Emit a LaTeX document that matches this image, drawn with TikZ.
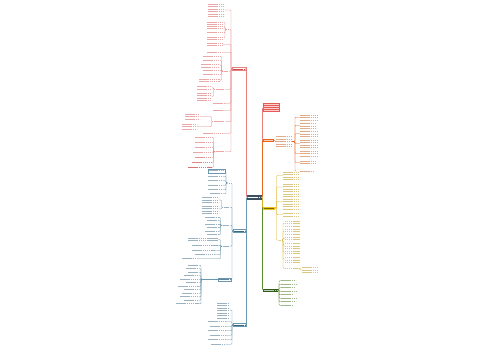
\documentclass[tikz,border=0pt]{standalone}
\usetikzlibrary{calc}
\definecolor{cRed}{HTML}{E88080}
\definecolor{tRed}{HTML}{D05050}
\definecolor{cBlue}{HTML}{6A97B0}
\definecolor{tBlue}{HTML}{3A6680}
\definecolor{cYel}{HTML}{DDB020}
\definecolor{tYel}{HTML}{B8920A}
\definecolor{fYel}{HTML}{F0C21C}
\definecolor{cGrn}{HTML}{5C8A2E}
\definecolor{tGrn}{HTML}{4F7A28}
\definecolor{fGrn}{HTML}{2F5A1A}
\definecolor{cOra}{HTML}{E8631C}
\definecolor{tOra}{HTML}{C9682A}
\definecolor{rootc}{HTML}{3B4F63}
\tikzset{
 txt/.style={inner sep=0pt, outer sep=0pt, fill=white, path picture={
   \foreach \i in {0,...,30}{
     \draw[#1, line width=0.6pt, dash pattern=on 1.6pt off 0.5pt]
       ([yshift={-1.25pt-\i*2.5pt}]path picture bounding box.north west) --
       ([yshift={-1.25pt-\i*2.5pt}]path picture bounding box.north east);}}},
 lbl/.style={inner sep=0pt, outer sep=0pt, path picture={
     \draw[#1, line width=0.7pt, dash pattern=on 1.6pt off 0.5pt]
       ([xshift=1pt]path picture bounding box.west) --
       ([xshift=-1pt]path picture bounding box.east);}},
 ln/.style={draw=#1, line width=0.4pt, rounded corners=0.8pt},
 mln/.style={draw=#1, line width=0.6pt, rounded corners=1pt},
 redbox/.style={inner sep=0pt, outer sep=0pt, draw=none, fill={rgb,255:red,226;green,92;blue,88}},
}
\newcommand\bx[6]{\node[#6, minimum width={(#4-#2)*1pt}, minimum height={(#5-#3)*1pt}] (#1) at ({(#2+#4)/2},{(#3+#5)/2}) {};}
\newcommand\lc[4]{\draw[ln=#4] (#1.west) -- ++(-#3,0) |- (#2.east);}
\newcommand\rc[4]{\draw[ln=#4] (#1.east) -- ++(#3,0) |- (#2.west);}
\begin{document}
\begin{tikzpicture}[x=1pt,y=-1pt]
\path[fill=white] (0,0) rectangle (500,360);
% ---------- root and main branches
\bx{rt}{247}{195}{262}{199.5}{lbl=white, fill=rootc}
\bx{R1}{232}{67.5}{246}{70.5}{lbl=tRed, fill=white, draw=cRed, line width=0.5pt}
\bx{BA}{233}{229.5}{246}{232.5}{lbl=tBlue, fill=white, draw=cBlue, line width=0.5pt}
\bx{BC}{233}{323.5}{246}{326.5}{lbl=tBlue, fill=white, draw=cBlue, line width=0.5pt}
\bx{RR}{263}{103}{280}{112}{redbox}
\foreach \k in {0,1,2,3}{\draw[white!80!red, line width=0.6pt] ([xshift=1.2pt, yshift={-1.7pt-\k*2pt}]RR.north west) -- ([xshift=-1.2pt, yshift={-1.7pt-\k*2pt}]RR.north east);}
\bx{OR}{263}{138.5}{274}{141.5}{lbl=cOra!30!white, fill=cOra}
\bx{YE}{263}{206.5}{275}{209.5}{lbl=tYel!70!black, fill=fYel}
\bx{GR}{263}{288.5}{278}{291.5}{lbl=fGrn!30!white, fill=fGrn}
\draw[mln=cRed] (rt.west) -- ++(-0.5,0) |- (R1.east);
\draw[mln=cBlue] (rt.west) -- ++(-0.5,0) |- (BC.east);
\draw[mln=cBlue] (rt.west) -- ++(-0.5,0) |- (BA.east);
\draw[mln=cRed] (rt.east) -- ++(0.5,0) |- (RR.west);
\draw[mln=cOra] (rt.east) -- ++(0.5,0) |- (OR.west);
\draw[mln=cGrn] (rt.east) -- ++(0.5,0) |- (GR.west);
\draw[mln=cYel] (rt.east) -- ++(0.5,0) |- (YE.west);
% ---------- red branch
\bx{r1}{208}{3}{225}{17}{txt=tRed!50}
\bx{r2}{226.5}{28.5}{229.5}{30.5}{lbl=tRed!50}
\bx{r2a}{207}{21}{224}{24}{txt=tRed!50}
\bx{r2b}{207}{25}{224}{28}{txt=tRed!50}
\bx{r2c}{207}{31.5}{224}{34.5}{txt=tRed!50}
\bx{r2d}{207}{36}{224}{39}{txt=tRed!50}
\bx{r3}{207}{42}{223}{47}{txt=tRed!50}
\bx{r4}{207}{51}{222}{53.5}{txt=tRed!50}
\bx{r5}{223}{70}{229}{72.5}{lbl=tRed!50}
\bx{r5a}{203}{55}{220}{57.5}{txt=tRed!50}
\bx{r5b}{203}{59.5}{220}{62}{txt=tRed!50}
\bx{r5c}{201}{63.5}{220}{67.5}{txt=tRed!50}
\bx{r5d}{203}{69}{220}{71.5}{txt=tRed!50}
\bx{r5e}{203}{73.5}{220}{76}{txt=tRed!50}
\bx{r5f}{199}{78}{220}{82.5}{txt=tRed!50}
\bx{r6}{215}{88}{225}{90.5}{lbl=tRed!50}
\bx{r6a}{197}{85.5}{212}{90}{txt=tRed!50}
\bx{r6b}{197}{92}{212}{101}{txt=tRed!50}
\bx{r7}{213}{102}{225}{104.5}{txt=tRed!50}
\bx{r8}{213}{109}{223}{111.5}{txt=tRed!50}
\bx{r9}{213}{120.5}{225}{123}{lbl=tRed!50}
\bx{r9a}{185}{113}{200}{120.5}{txt=tRed!50}
\bx{r9b}{182}{123}{197}{130.5}{txt=tRed!50}
\bx{r10}{203}{132}{223}{134.5}{txt=tRed!50}
\bx{r11}{215}{150.5}{225}{153}{lbl=tRed!50}
\bx{r11a}{195}{136}{212}{138.5}{txt=tRed!50}
\bx{r11b}{195}{141}{212}{143.5}{txt=tRed!50}
\bx{r11c}{195}{146}{212}{148.5}{txt=tRed!50}
\bx{r11d}{193}{151}{212}{153.5}{txt=tRed!50}
\bx{r11e}{195}{156}{212}{158.5}{txt=tRed!60}
\bx{r11f}{192}{161}{212}{163.5}{txt=tRed!70}
\bx{r11g}{188}{166}{212}{168.5}{txt=tRed!80}
\foreach \c in {r1,r2,r3,r4,r5,r6,r7,r8,r9,r10,r11}{\lc{R1}{\c}{1}{cRed}}
\foreach \c in {r2a,r2b,r2c,r2d}{\lc{r2}{\c}{1.5}{cRed}}
\foreach \c in {r5a,r5b,r5c,r5d,r5e,r5f}{\lc{r5}{\c}{1.5}{cRed}}
\foreach \c in {r6a,r6b}{\lc{r6}{\c}{1.5}{cRed}}
\foreach \c in {r9a,r9b}{\lc{r9}{\c}{1.5}{cRed}}
\foreach \c in {r11a,r11b,r11c,r11d,r11e,r11f,r11g}{\lc{r11}{\c}{1.5}{cRed}}
% ---------- blue branch A
\bx{ba1}{227.5}{182}{230.5}{184}{lbl=tBlue!50}
\bx{ba1a}{208}{169.5}{225}{173}{txt=tBlue!50, draw=cBlue, line width=0.4pt}
\bx{ba1b}{208}{175}{223}{177.5}{txt=tBlue!50}
\bx{ba1c}{208}{179.5}{223}{182}{txt=tBlue!50}
\bx{ba1d}{208}{184}{223}{186.5}{txt=tBlue!50}
\bx{ba1e}{208}{188.5}{223}{191}{txt=tBlue!50}
\bx{ba1f}{210}{192.5}{223}{195}{txt=tBlue!50}
\bx{ba2}{223}{206}{230}{208.5}{lbl=tBlue!50}
\bx{ba2a}{202}{196.5}{219}{203.5}{txt=tBlue!50}
\bx{ba2b}{202}{205}{219}{213}{txt=tBlue!50}
\bx{ba3}{222}{224}{230}{226.5}{lbl=tBlue!50}
\bx{ba3a}{205}{216}{219}{218.5}{txt=tBlue!50}
\bx{ba3b}{207}{219.5}{219}{222}{txt=tBlue!50}
\bx{ba3c}{205}{223}{219}{225.5}{txt=tBlue!50}
\bx{ba3d}{207}{226.5}{219}{229}{txt=tBlue!50}
\bx{ba3e}{205}{230}{219}{232.5}{txt=tBlue!50}
\bx{ba3f}{207}{233.5}{219}{236}{txt=tBlue!50}
\bx{ba4}{222}{245}{230}{247.5}{lbl=tBlue!50}
\bx{ba4a}{188}{237}{218}{242}{txt=tBlue!50}
\bx{ba4b}{192}{244}{218}{246.5}{txt=tBlue!50}
\bx{ba4c}{192}{249.5}{215}{252}{txt=tBlue!50}
\bx{ba4d}{195}{253.5}{215}{256}{txt=tBlue!50}
\bx{ba4e}{182}{257.5}{197}{260}{txt=tBlue!50}
\bx{BB}{218}{278}{231}{281}{lbl=tBlue!80, fill=white, draw=cBlue, line width=0.5pt}
\bx{bb1}{188}{264}{199}{266.5}{txt=tBlue!50}
\bx{bb2}{186}{267.5}{199}{270}{txt=tBlue!50}
\bx{bb3}{188}{271}{199}{273.5}{txt=tBlue!50}
\bx{bb4}{184}{274.5}{199}{277}{txt=tBlue!50}
\bx{bb5}{180}{278}{199}{280.5}{txt=tBlue!50}
\bx{bb6}{186}{281.5}{199}{284}{txt=tBlue!50}
\bx{bb7}{178}{285}{199}{287.5}{txt=tBlue!50}
\bx{bb8}{184}{288.5}{199}{291}{txt=tBlue!50}
\bx{bb9}{182}{292}{199}{294.5}{txt=tBlue!50}
\bx{bb10}{180}{295.5}{199}{298}{txt=tBlue!50}
\bx{bb11}{184}{299}{199}{301.5}{txt=tBlue!50}
\bx{bb12}{176}{302.5}{199}{305}{txt=tBlue!50}
\foreach \c in {ba1,ba2,ba3,ba4,BB}{\lc{BA}{\c}{1}{cBlue}}
\foreach \c in {ba1a,ba1b,ba1c,ba1d,ba1e,ba1f}{\lc{ba1}{\c}{1.5}{cBlue}}
\foreach \c in {ba2a,ba2b}{\lc{ba2}{\c}{1.5}{cBlue}}
\foreach \c in {ba3a,ba3b,ba3c,ba3d,ba3e,ba3f}{\lc{ba3}{\c}{1.5}{cBlue}}
\foreach \c in {ba4a,ba4b,ba4c,ba4d,ba4e}{\lc{ba4}{\c}{1.5}{cBlue}}
\foreach \c in {bb1,bb2,bb3,bb4,bb5,bb6,bb7,bb8,bb9,bb10,bb11,bb12}{\lc{BB}{\c}{17}{cBlue}}
% ---------- blue branch C
\bx{bc1}{217}{302}{230}{318}{txt=tBlue!50}
\bx{bc2}{208}{320.5}{226}{323}{txt=tBlue!50}
\bx{bc3}{210}{325}{226}{327.5}{txt=tBlue!50}
\bx{bc4}{208}{329.5}{226}{332}{txt=tBlue!50}
\bx{bc5}{210}{334}{226}{336.5}{txt=tBlue!50}
\bx{bc6}{208}{338.5}{226}{341}{txt=tBlue!50}
\bx{bc7}{211}{343}{226}{345.5}{txt=tBlue!50}
\foreach \c in {bc1,bc2,bc3,bc4,bc5,bc6,bc7}{\lc{BC}{\c}{1}{cBlue}}
% ---------- orange branch
\bx{ob}{276}{135.5}{292}{148}{txt=tOra!55}
\bx{o1}{300}{114}{318}{120.5}{txt=tOra!55}
\bx{o2}{300}{122.5}{317}{128}{txt=tOra!55}
\bx{o3}{300}{130.5}{318}{137}{txt=tOra!55}
\bx{o4}{300}{139}{318}{148}{txt=tOra!55}
\bx{o5}{300}{150}{318}{157}{txt=tOra!55}
\bx{o6}{300}{160}{316}{165}{txt=tOra!55}
\bx{o7}{300}{170}{314}{172.5}{txt=tOra!55}
\rc{OR}{ob}{1}{cOra}
\foreach \c in {o1,o2,o3,o4,o5,o6,o7}{\rc{ob}{\c}{3}{cOra}}
% ---------- yellow branch
\bx{y1}{283}{171}{300}{180}{txt=tYel!50}
\bx{y2}{283}{183}{300}{191}{txt=tYel!50}
\bx{y3}{283}{193}{300}{210}{txt=tYel!50}
\bx{y4}{283}{212.5}{300}{217}{txt=tYel!50}
\bx{y5}{278}{239}{282}{241.5}{lbl=tYel!50}
\bx{y5a}{284.5}{220}{300}{226}{txt=tYel!50}
\bx{y5b}{284.5}{228}{300}{234}{txt=tYel!50}
\bx{y5c}{284.5}{236}{300}{240.5}{txt=tYel!50}
\bx{y5d}{284.5}{242.5}{300}{248}{txt=tYel!50}
\bx{y5e}{284.5}{250}{300}{254.5}{txt=tYel!50}
\bx{y5f}{284.5}{256.5}{300}{262}{txt=tYel!50}
\bx{y5g}{284.5}{267}{298}{269.5}{txt=tYel!50}
\bx{y5h}{302}{266.5}{318}{272.5}{txt=tYel!50}
\foreach \c in {y1,y2,y3,y4,y5}{\rc{YE}{\c}{1.5}{cYel}}
\foreach \c in {y5a,y5b,y5c,y5d,y5e,y5f,y5g}{\rc{y5}{\c}{1}{cYel}}
\rc{y5g}{y5h}{2}{cYel}
% ---------- green branch
\bx{g1}{281}{279.5}{296}{282}{txt=tGrn!55}
\bx{g2}{281}{283}{298}{285.5}{txt=tGrn!55}
\bx{g3}{281}{286.5}{295}{289}{txt=tGrn!55}
\bx{g4}{281}{290}{298}{292.5}{txt=tGrn!55}
\bx{g5}{281}{293.5}{293}{296}{txt=tGrn!55}
\bx{g6}{281}{297}{297}{299.5}{txt=tGrn!55}
\bx{g7}{281}{300.5}{296}{303}{txt=tGrn!55}
\bx{g8}{281}{304}{294}{306.5}{txt=tGrn!55}
\foreach \c in {g1,g2,g3,g4,g5,g6,g7,g8}{\rc{GR}{\c}{1}{cGrn}}
\end{tikzpicture}
\end{document}
